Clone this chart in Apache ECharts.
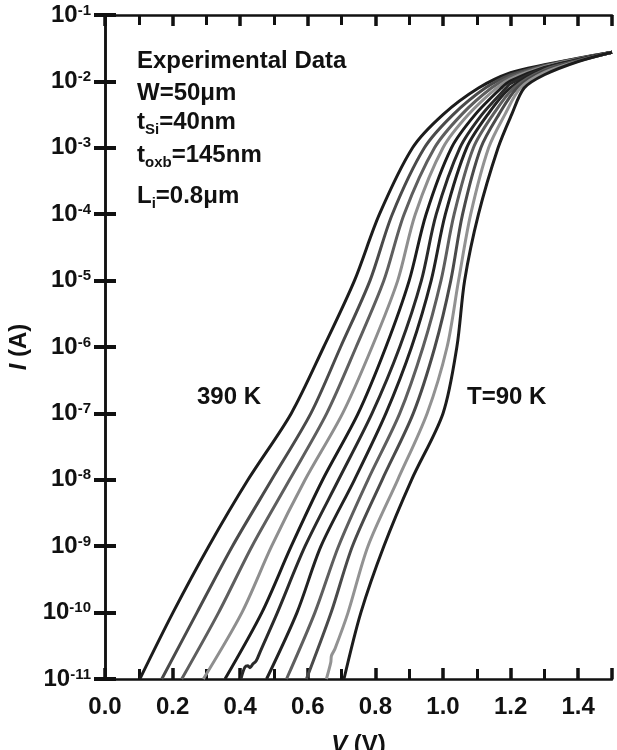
<!DOCTYPE html>
<html><head><meta charset="utf-8">
<script src="https://cdn.jsdelivr.net/npm/echarts@6/dist/echarts.min.js"></script>
<style>html,body{margin:0;padding:0;background:#fff}#c{width:617px;height:750px}</style>
</head><body><div id="c"></div>
<script>
const FONT = '"Liberation Sans", Arial, Helvetica, sans-serif';

// Temperatures (K) of the curves, left (hot) to right (cold)
const temps = [390, 360, 330, 300, 270, 240, 210, 180, 150, 120, 90];

// [V (V), I (A)]
const curve390 = [[0.103,1e-11],[0.201,1e-10],[0.307,1e-9],[0.423,1e-8],[0.551,1e-7],[0.647,1e-6],[0.738,1e-5],[0.812,1e-4],[0.910,1e-3],[1.000,3.16e-3],[1.105,7.94e-3],[1.200,1.349e-2],[1.300,1.778e-2],[1.400,2.239e-2],[1.500,2.75e-2]];
const curve360 = [[0.168,1e-11],[0.272,1e-10],[0.377,1e-9],[0.493,1e-8],[0.609,1e-7],[0.697,1e-6],[0.784,1e-5],[0.850,1e-4],[0.945,1e-3],[1.030,3.16e-3],[1.125,7.94e-3],[1.200,1.259e-2],[1.300,1.738e-2],[1.400,2.213e-2],[1.500,2.75e-2]];
const curve330 = [[0.227,1e-11],[0.336,1e-10],[0.435,1e-9],[0.546,1e-8],[0.656,1e-7],[0.743,1e-6],[0.825,1e-5],[0.885,1e-4],[0.975,1e-3],[1.055,3.16e-3],[1.143,7.94e-3],[1.200,1.175e-2],[1.300,1.698e-2],[1.400,2.188e-2],[1.500,2.75e-2]];
const curve300 = [[0.291,1e-11],[0.405,1e-10],[0.493,1e-9],[0.592,1e-8],[0.703,1e-7],[0.790,1e-6],[0.866,1e-5],[0.918,1e-4],[1.000,1e-3],[1.075,3.16e-3],[1.158,7.94e-3],[1.200,1.096e-2],[1.300,1.660e-2],[1.400,2.163e-2],[1.500,2.75e-2]];
const curve270 = [[0.355,1e-11],[0.464,1e-10],[0.551,1e-9],[0.644,1e-8],[0.749,1e-7],[0.831,1e-6],[0.900,1e-5],[0.950,1e-4],[1.025,1e-3],[1.095,3.16e-3],[1.172,7.94e-3],[1.200,1.023e-2],[1.300,1.622e-2],[1.400,2.138e-2],[1.500,2.75e-2]];
const curve240 = [[0.402,1e-11],[0.414,1.51e-11],[0.423,1.58e-11],[0.429,1.48e-11],[0.438,1.70e-11],[0.447,1.86e-11],[0.459,2.57e-11],[0.510,1e-10],[0.592,1e-9],[0.691,1e-8],[0.790,1e-7],[0.872,1e-6],[0.936,1e-5],[0.980,1e-4],[1.050,1e-3],[1.115,3.16e-3],[1.186,7.94e-3],[1.200,9.33e-3],[1.300,1.585e-2],[1.400,2.113e-2],[1.500,2.75e-2]];
const curve210 = [[0.478,1e-11],[0.568,1e-10],[0.639,1e-9],[0.738,1e-8],[0.831,1e-7],[0.907,1e-6],[0.965,1e-5],[1.007,1e-4],[1.070,1e-3],[1.132,3.16e-3],[1.198,7.94e-3],[1.300,1.549e-2],[1.400,2.089e-2],[1.500,2.75e-2]];
const curve180 = [[0.537,1e-11],[0.621,1e-10],[0.691,1e-9],[0.778,1e-8],[0.872,1e-7],[0.941,1e-6],[0.994,1e-5],[1.033,1e-4],[1.090,1e-3],[1.148,3.16e-3],[1.209,7.94e-3],[1.300,1.496e-2],[1.400,2.065e-2],[1.500,2.75e-2]];
const curve150 = [[0.596,1e-11],[0.669,1e-10],[0.732,1e-9],[0.820,1e-8],[0.912,1e-7],[0.976,1e-6],[1.023,1e-5],[1.058,1e-4],[1.112,1e-3],[1.165,3.16e-3],[1.219,7.94e-3],[1.300,1.445e-2],[1.400,2.042e-2],[1.500,2.75e-2]];
const curve120 = [[0.655,1e-11],[0.668,1.78e-11],[0.670,2.24e-11],[0.680,2.82e-11],[0.719,1e-10],[0.778,1e-9],[0.866,1e-8],[0.953,1e-7],[1.012,1e-6],[1.046,1e-5],[1.082,1e-4],[1.135,1e-3],[1.183,3.16e-3],[1.229,7.94e-3],[1.300,1.365e-2],[1.400,2.018e-2],[1.500,2.75e-2]];
const curve90  = [[0.707,1e-11],[0.757,1e-10],[0.825,1e-9],[0.907,1e-8],[1.000,1e-7],[1.041,1e-6],[1.064,1e-5],[1.105,1e-4],[1.163,1e-3],[1.203,3.16e-3],[1.240,7.94e-3],[1.300,1.259e-2],[1.400,1.995e-2],[1.500,2.75e-2]];

const curves = [curve390, curve360, curve330, curve300, curve270, curve240, curve210, curve180, curve150, curve120, curve90];
const curveColors = ['#1c1c1c','#4a4a4a','#5e5e5e','#8e8e8e','#1c1c1c','#2a2a2a','#222222','#5e5e5e','#4a4a4a','#929292','#1c1c1c'];

const xMin = 0, xMax = 1.5, xStep = 0.2;
const yMin = 1e-11, yMax = 1e-1;

const annotationLines = [
  [['Experimental Data', 24, 0]],
  [['W=50\u03bcm', 24, 0]],
  [['t', 24, 0], ['Si', 15, 8], ['=40nm', 24, 0]],
  [['t', 24, 0], ['oxb', 15, 8], ['=145nm', 24, 0]],
  [['L', 24, 0], ['i', 15, 8], ['=0.8\u03bcm', 24, 0]]
];
const annotationY = [61, 93, 122, 155, 196];
const tempLabels = ['390 K', 'T=90 K'];

const ctx = document.createElement('canvas').getContext('2d');
function tw(t, size) { ctx.font = 'bold ' + size + 'px ' + FONT; return ctx.measureText(t).width; }
const graphics = [];
annotationLines.forEach((parts, i) => {
  let x = 137;
  parts.forEach(([t, size, dy]) => {
    graphics.push({type: 'text', x: x, y: annotationY[i] + dy, silent: true,
      style: {text: t, fontSize: size, fontWeight: 'bold', fontFamily: FONT, fill: '#111', align: 'left', verticalAlign: 'middle'}});
    x += tw(t, size);
  });
});
graphics.push({type: 'text', x: 197, y: 397, style: {text: tempLabels[0], fontSize: 24, fontWeight: 'bold', fontFamily: FONT, fill: '#111', verticalAlign: 'middle'}});
graphics.push({type: 'text', x: 467, y: 397, style: {text: tempLabels[1], fontSize: 24, fontWeight: 'bold', fontFamily: FONT, fill: '#111', verticalAlign: 'middle'}});

const axisLine = {show: true, lineStyle: {color: '#111', width: 2.5}};
const xTick = {show: true, inside: true, length: 11, lineStyle: {color: '#111', width: 3.5}};
const xMinor = {show: true, splitNumber: 2, length: 10, lineStyle: {color: '#111', width: 3}};
const yTick = {show: true, inside: true, length: 11, lineStyle: {color: '#111', width: 4}};

const chart = echarts.init(document.getElementById('c'), null, {renderer: 'canvas'});
chart.setOption({
  backgroundColor: '#fff',
  animation: false,
  grid: {left: 105, right: 5, top: 15, bottom: 71, containLabel: false, outerBoundsMode: 'none'},
  xAxis: [
    {type: 'value', min: xMin, max: xMax, interval: xStep, position: 'bottom',
     axisLine: axisLine, axisTick: xTick, minorTick: xMinor,
     splitLine: {show: false}, minorSplitLine: {show: false},
     axisLabel: {show: true, showMaxLabel: false, margin: 16, fontSize: 24, fontWeight: 'bold', fontFamily: FONT, color: '#111',
       formatter: v => v.toFixed(1)},
     name: '{i|V} (V)', nameLocation: 'middle', nameGap: 54,
     nameTextStyle: {fontSize: 24, fontWeight: 'bold', fontFamily: FONT, color: '#111',
       rich: {i: {fontSize: 24, fontWeight: 'bold', fontStyle: 'italic', fontFamily: FONT, color: '#111'}}}},
    {type: 'value', min: xMin, max: xMax, interval: xStep, position: 'top',
     axisLine: axisLine, axisTick: xTick, minorTick: xMinor,
     splitLine: {show: false}, minorSplitLine: {show: false}, axisLabel: {show: false}}
  ],
  yAxis: [
    {type: 'log', logBase: 10, min: yMin, max: yMax, interval: 1, splitNumber: 10, position: 'left',
     axisLine: axisLine, axisTick: yTick, splitLine: {show: false},
     axisLabel: {show: true, margin: 14, showMinLabel: true, showMaxLabel: true, hideOverlap: false,
       formatter: v => '{b|10}{s|' + Math.round(Math.log10(v)) + '}',
       rich: {b: {fontSize: 24, fontWeight: 'bold', fontFamily: FONT, color: '#111'},
              s: {fontSize: 15, fontWeight: 'bold', fontFamily: FONT, color: '#111', verticalAlign: 'top'}}},
     name: '{i|I} (A)', nameLocation: 'middle', nameGap: 64,
     nameTextStyle: {fontSize: 24, fontWeight: 'bold', fontFamily: FONT, color: '#111',
       rich: {i: {fontSize: 24, fontWeight: 'bold', fontStyle: 'italic', fontFamily: FONT, color: '#111'}}}},
    {type: 'log', logBase: 10, min: yMin, max: yMax, interval: 1, splitNumber: 10, position: 'right',
     axisLine: axisLine, axisTick: yTick, splitLine: {show: false}, axisLabel: {show: false}}
  ],
  series: curves.map((d, i) => ({
    name: temps[i] + ' K', type: 'line', data: d, xAxisIndex: 0, yAxisIndex: 0,
    showSymbol: false, symbol: 'none', smooth: 0.3, clip: true,
    lineStyle: {color: curveColors[i], width: 3}, z: 2
  })),
  graphic: graphics
});
</script>
</body></html>
